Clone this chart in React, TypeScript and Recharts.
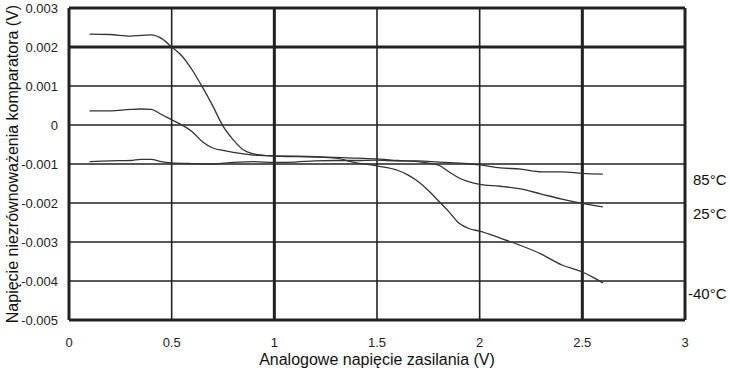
import { CartesianGrid, Line, LineChart, ReferenceLine, XAxis, YAxis } from "recharts";

// x = analog supply voltage (V), values = comparator offset voltage (V)
const xTicks = [0, 0.5, 1, 1.5, 2, 2.5, 3];
const xTickLabels = ["0", "0.5", "1", "1.5", "2", "2.5", "3"];
const yTicks = [0.003, 0.002, 0.001, 0, -0.001, -0.002, -0.003, -0.004, -0.005];
const yTickLabels = ["0.003", "0.002", "0.001", "0", "-0.001", "-0.002", "-0.003", "-0.004", "-0.005"];

const xMinus40 = [0.1, 0.2, 0.3, 0.35, 0.4, 0.45, 0.5, 0.55, 0.6, 0.65, 0.7, 0.75, 0.8, 0.85, 0.9, 0.95, 1.0, 1.1, 1.2, 1.3, 1.4, 1.5, 1.6, 1.65, 1.7, 1.75, 1.8, 1.85, 1.9, 1.95, 2.0, 2.1, 2.2, 2.3, 2.4, 2.5, 2.55, 2.6];
const vMinus40 = [0.00233, 0.00232, 0.00228, 0.0023, 0.00231, 0.00222, 0.002, 0.00177, 0.00141, 0.00097, 0.00049, -0.00003, -0.00038, -0.00064, -0.00074, -0.00078, -0.0008, -0.00081, -0.00082, -0.00085, -0.00097, -0.00105, -0.00116, -0.00128, -0.00145, -0.00168, -0.00195, -0.00222, -0.00252, -0.00266, -0.00272, -0.0029, -0.00309, -0.00331, -0.00359, -0.00377, -0.0039, -0.00405];

const x25 = [0.1, 0.2, 0.3, 0.35, 0.4, 0.45, 0.5, 0.55, 0.6, 0.65, 0.7, 0.75, 0.8, 0.85, 0.9, 1.0, 1.2, 1.4, 1.5, 1.6, 1.7, 1.8, 1.85, 1.9, 1.95, 2.0, 2.1, 2.2, 2.3, 2.4, 2.5, 2.6];
const v25 = [0.00036, 0.00036, 0.0004, 0.00041, 0.0004, 0.00027, 0.00013, 0.0, -0.00017, -0.00043, -0.00059, -0.00065, -0.0007, -0.00074, -0.00077, -0.00079, -0.00081, -0.00085, -0.00087, -0.00091, -0.00094, -0.00103, -0.0012, -0.00136, -0.00146, -0.00152, -0.00157, -0.00164, -0.00177, -0.0019, -0.00201, -0.0021];

const x85 = [0.1, 0.2, 0.3, 0.35, 0.4, 0.45, 0.5, 0.6, 0.7, 0.8, 0.9, 1.0, 1.1, 1.2, 1.3, 1.4, 1.5, 1.6, 1.7, 1.8, 1.9, 2.0, 2.1, 2.2, 2.3, 2.4, 2.5, 2.6];
const v85 = [-0.00094, -0.00092, -0.00091, -0.00088, -0.00088, -0.00094, -0.00097, -0.00099, -0.001, -0.00096, -0.00094, -0.00096, -0.00095, -0.00092, -0.00091, -0.00091, -0.0009, -0.00092, -0.00092, -0.00095, -0.00098, -0.00102, -0.0011, -0.00113, -0.0012, -0.0012, -0.00124, -0.00126];

const toPoints = (xs: number[], vs: number[]) => xs.map((x, i) => ({ x, v: vs[i] }));

const series = [
  { name: "-40°C", data: toPoints(xMinus40, vMinus40) },
  { name: "25°C", data: toPoints(x25, v25) },
  { name: "85°C", data: toPoints(x85, v85) },
];

const FONT = "'Liberation Sans', Arial, sans-serif";
const INK = "#222";

export default function App() {
  return (
    <div style={{ position: "absolute", left: 0, top: 0, width: 730, height: 372, background: "#fff", fontFamily: FONT }}>
      <LineChart width={730} height={372} margin={{ top: 8, right: 45, left: 0, bottom: 0 }}>
        <CartesianGrid stroke={INK} strokeWidth={1.6} horizontalValues={yTicks} verticalValues={xTicks} />
        <XAxis
          type="number"
          dataKey="x"
          domain={[0, 3]}
          ticks={xTicks}
          tickFormatter={(v: number) => xTickLabels[xTicks.indexOf(v)] ?? String(v)}
          tickLine={false}
          axisLine={{ stroke: INK, strokeWidth: 3 }}
          tick={{ fill: INK, fontSize: 13, fontFamily: FONT }}
          tickMargin={12}
          height={52}
          allowDataOverflow
          label={{ value: "Analogowe napięcie zasilania (V)", position: "insideBottom", offset: 7, fill: "#111", style: { fontSize: 16, fontFamily: FONT } }}
        />
        <YAxis
          type="number"
          domain={[-0.005, 0.003]}
          ticks={yTicks}
          tickFormatter={(v: number) => {
            const i = yTicks.findIndex((t) => Math.abs(t - v) < 1e-9);
            return i >= 0 ? yTickLabels[i] : String(v);
          }}
          tickLine={false}
          axisLine={{ stroke: INK, strokeWidth: 3 }}
          tick={{ fill: INK, fontSize: 13, fontFamily: FONT }}
          tickMargin={5}
          width={69}
          allowDataOverflow
          label={{ value: "Napięcie niezrównoważenia komparatora (V)", angle: -90, position: "insideLeft", offset: 12, fill: "#111", style: { textAnchor: "middle", fontSize: 16, fontFamily: FONT } }}
        />
        <ReferenceLine y={0.002} stroke={INK} strokeWidth={3} />
        <ReferenceLine y={0.003} stroke={INK} strokeWidth={3} />
        <ReferenceLine x={1} stroke={INK} strokeWidth={3} />
        <ReferenceLine x={2.5} stroke={INK} strokeWidth={3} />
        <ReferenceLine x={3} stroke={INK} strokeWidth={3} />
        {series.map((s) => (
          <Line
            key={s.name}
            name={s.name}
            data={s.data}
            dataKey="v"
            type="monotone"
            stroke="#333"
            strokeWidth={1.3}
            dot={false}
            isAnimationActive={false}
          />
        ))}
      </LineChart>
      <div style={{ position: "absolute", left: 693, top: 171, fontSize: 15, color: "#111" }}>85°C</div>
      <div style={{ position: "absolute", left: 693, top: 205, fontSize: 15, color: "#111" }}>25°C</div>
      <div style={{ position: "absolute", left: 688, top: 285, fontSize: 15, color: "#111" }}>-40°C</div>
    </div>
  );
}
